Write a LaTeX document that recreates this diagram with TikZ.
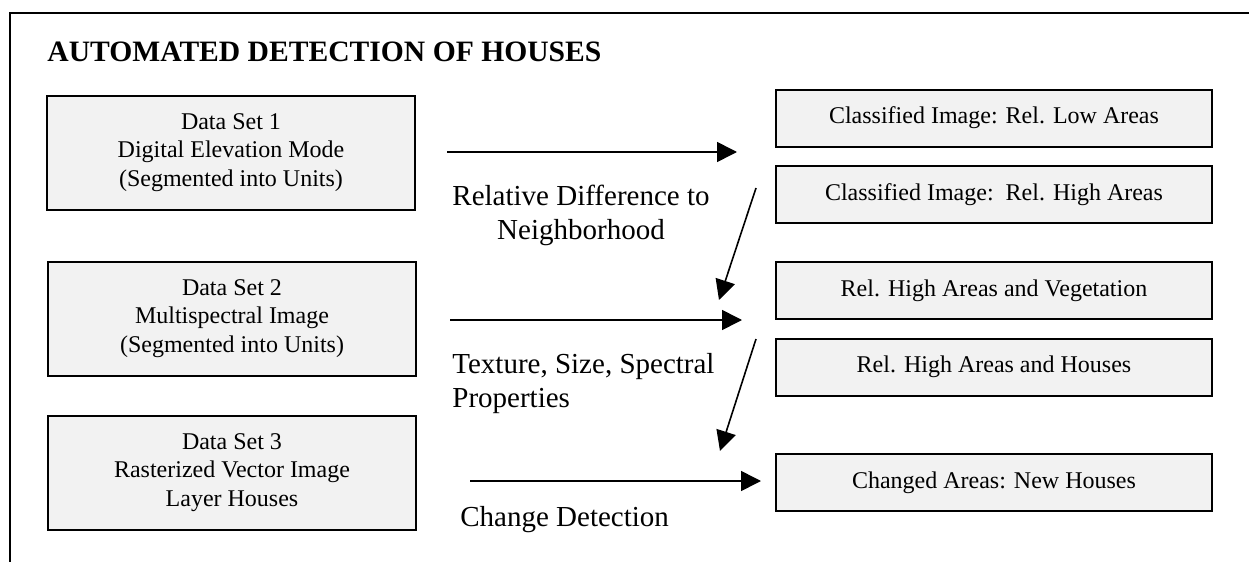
\documentclass[tikz,border=0pt]{standalone}
\usepackage{fontspec}
\setmainfont{Liberation Serif}
\usepackage{tikz}
\usetikzlibrary{arrows.meta}

\tikzset{
  databox/.style={draw, line width=1pt, fill=black!5, minimum width=184pt,
    minimum height=57pt, inner sep=0pt, align=center,
    font=\fontsize{12}{14.25}\selectfont},
  resultbox/.style={draw, line width=1pt, fill=black!5, minimum width=218pt,
    minimum height=28.5pt, inner sep=0pt, font=\fontsize{12}{14.25}\selectfont},
  methodlabel/.style={inner sep=0pt, font=\fontsize{14.5}{17}\selectfont}
}

\begin{document}
\begin{tikzpicture}[>={Triangle[length=10pt, width=10pt]}, x=0.5pt, y=-0.5pt]

    \useasboundingbox (0,0) rectangle (1249,562);
    % frame (top and left edge only)
    \draw[line width=1pt] (1249,13) -- (10,13) -- (10,562);
    \node[anchor=west, inner sep=0pt, font=\fontsize{14.8}{17}\selectfont\bfseries]
        (title) at (47,52) {AUTOMATED DETECTION OF HOUSES};

    % input data sets
    \node[databox] (ds1) at (231,152.5) {Data Set 1\\Digital Elevation Mode\\(Segmented into Units)};
    \node[databox] (ds2) at (232,318.5) {Data Set 2\\Multispectral Image\\(Segmented into Units)};
    \node[databox] (ds3) at (232,472.5) {Data Set 3\\Rasterized Vector Image\\Layer Houses};

    % results
    \node[resultbox] (low)   at (994,118)   {Classified Image: Rel. Low Areas};
    \node[resultbox] (high)  at (994,194.5) {Classified Image:\ \ Rel. High Areas};
    \node[resultbox] (veget) at (994,290.5) {Rel. High Areas and Vegetation};
    \node[resultbox] (house) at (994,367)   {Rel. High Areas and Houses};
    \node[resultbox] (new)   at (994,482.5) {Changed Areas: New Houses};

    % methods
    \node[methodlabel, align=center] (reldiff) at (581,215)
        {Relative Difference to\\Neighborhood};
    \node[methodlabel, align=left, anchor=west] (texture) at (452,384)
        {Texture, Size, Spectral\\Properties};
    \node[methodlabel, anchor=west] (change) at (460,520) {Change Detection};

    % arrow ends
    \coordinate (a1s) at (447,152);  \coordinate (a1e) at (737,152);
    \coordinate (a2s) at (450,320);  \coordinate (a2e) at (742,320);
    \coordinate (a3s) at (470,481);  \coordinate (a3e) at (761,481);
    \coordinate (d1s) at (756,188);  \coordinate (d1e) at (719,300);
    \coordinate (d2s) at (756,339);  \coordinate (d2e) at (720,451);

    \draw[->, line width=0.8pt] (a1s) -- (a1e);
    \draw[->, line width=0.8pt] (a2s) -- (a2e);
    \draw[->, line width=0.8pt] (a3s) -- (a3e);
    \draw[->, line width=0.8pt] (d1s) -- (d1e);
    \draw[->, line width=0.8pt] (d2s) -- (d2e);

\end{tikzpicture}
\end{document}
